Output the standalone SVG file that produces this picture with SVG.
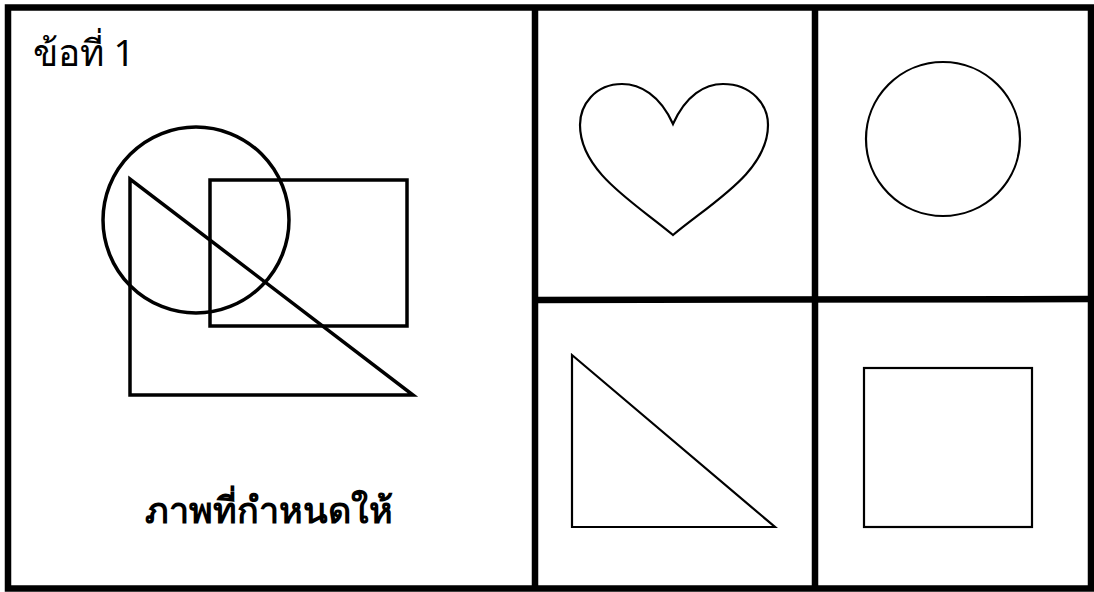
<svg xmlns="http://www.w3.org/2000/svg" width="1094" height="592" viewBox="0 0 1094 592">
<style>
.frame{fill:none;stroke:#000;stroke-width:6.5}
.thick{fill:none;stroke:#000;stroke-width:3.5;stroke-linejoin:miter}
.thin{fill:none;stroke:#000;stroke-width:2.2;stroke-linejoin:miter}
.t{font-family:"Noto Sans","DejaVu Sans",sans-serif;fill:#000}
</style>
<rect width="1094" height="592" fill="#fff"/>
<g id="frame">
<rect class="frame" x="8" y="7.5" width="1083" height="581"/>
<line class="frame" x1="535" y1="7" x2="535" y2="589"/>
<line class="frame" x1="815" y1="7" x2="815" y2="589"/>
<line class="frame" x1="535" y1="300" x2="1091" y2="299"/>
</g>
<g id="given">
<text class="t" x="33" y="66" font-size="37">ข้อที่ 1</text>
<circle class="thick" cx="196" cy="220" r="93"/>
<rect class="thick" x="210" y="180" width="197" height="146"/>
<polygon class="thick" points="130,179 130,395 413,395"/>
<text class="t" x="269" y="523" font-size="36" font-weight="bold" text-anchor="middle">ภาพที่กำหนดให้</text>
</g>
<g id="heart">
<path class="thin" d="M673,124 C660,95 640,84 622,84 C595,84 580,105 580,125 C580,172 635,203 673,235 C711,203 768,172 768,125 C768,105 752,84 723,84 C705,84 686,95 673,124 Z"/>
</g>
<g id="circle">
<circle class="thin" cx="943" cy="139" r="77"/>
</g>
<g id="triangle">
<polygon class="thin" points="572,355 572,527 775,527"/>
</g>
<g id="square">
<rect class="thin" x="864" y="368" width="168" height="159"/>
</g>
</svg>
